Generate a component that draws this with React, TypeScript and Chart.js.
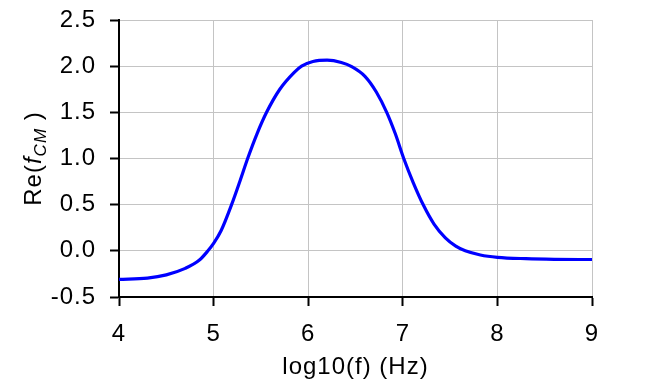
import React, { useEffect, useRef } from "react";
import { Chart, registerables } from "chart.js";
Chart.register(...registerables);

// log10(f) values and Re(f_CM)
const logF = [4.0, 4.3, 4.5, 4.7, 4.85, 4.94, 5.0, 5.08, 5.19, 5.28, 5.36, 5.46, 5.56, 5.7, 5.85, 5.93, 6.05, 6.2, 6.35, 6.46, 6.6, 6.72, 6.83, 6.92, 7.01, 7.11, 7.22, 7.33, 7.45, 7.56, 7.66, 7.82, 8.0, 8.3, 8.6, 9.0];
const reCM = [-0.31, -0.295, -0.26, -0.19, -0.1, 0.0, 0.08, 0.22, 0.5, 0.76, 1.0, 1.27, 1.5, 1.75, 1.93, 2.0, 2.05, 2.065, 2.04, 1.995, 1.89, 1.72, 1.5, 1.27, 1.0, 0.74, 0.49, 0.29, 0.14, 0.05, 0.0, -0.045, -0.07, -0.085, -0.092, -0.094];
const xTicks = [4, 5, 6, 7, 8, 9];
const yTicks = [-0.5, 0, 0.5, 1.0, 1.5, 2.0, 2.5];
const xTitle = "log10(f) (Hz)";
const yTitleParts = ["Re(", "f", "CM", " )"];

const FONT = '"Liberation Sans", Arial, sans-serif';
const FS = 24;

const yTitlePlugin = {
  id: "yTitleRich",
  afterDraw(chart: any) {
    const ctx = chart.ctx;
    const area = chart.chartArea;
    const cx = 33;
    const cy = (area.top + area.bottom) / 2;
    const parts = [
      { t: yTitleParts[0], font: `${FS}px ${FONT}`, dy: 8 },
      { t: yTitleParts[1], font: `italic ${FS}px ${FONT}`, dy: 8 },
      { t: yTitleParts[2], font: `italic 17px ${FONT}`, dy: 13 },
      { t: yTitleParts[3], font: `${FS}px ${FONT}`, dy: 8 },
    ];
    ctx.save();
    ctx.fillStyle = "#000";
    ctx.textBaseline = "alphabetic";
    ctx.textAlign = "left";
    let total = 0;
    const widths = parts.map((p) => {
      ctx.font = p.font;
      const w = ctx.measureText(p.t).width;
      total += w;
      return w;
    });
    ctx.translate(cx, cy);
    ctx.rotate(-Math.PI / 2);
    let u = -total / 2;
    parts.forEach((p, i) => {
      ctx.font = p.font;
      ctx.fillText(p.t, u, p.dy);
      u += widths[i];
    });
    ctx.restore();
  },
};

const bgPlugin = {
  id: "bg",
  beforeDraw(chart: any) {
    const ctx = chart.ctx;
    ctx.fillStyle = "#ffffff";
    ctx.fillRect(0, 0, chart.width, chart.height);
    try {
      (ctx as any).letterSpacing = "1px";
    } catch (e) {}
  },
};

export default function App() {
  const ref = useRef<HTMLCanvasElement | null>(null);
  useEffect(() => {
    if (!ref.current) return;
    const chart = new Chart(ref.current, {
      type: "line",
      data: {
        datasets: [
          {
            data: logF.map((x, i) => ({ x, y: reCM[i] })),
            borderColor: "rgb(0,0,255)",
            borderWidth: 3.2,
            pointRadius: 0,
            fill: false,
            cubicInterpolationMode: "monotone",
          },
        ],
      },
      options: {
        animation: false,
        responsive: false,
        devicePixelRatio: 1,
        layout: { padding: { top: 20, right: 56, bottom: 0, left: 0 } },
        plugins: { legend: { display: false }, tooltip: { enabled: false } },
        scales: {
          x: {
            type: "linear",
            min: 4,
            max: 9,
            afterFit: (s: any) => {
              s.height = 93;
              s.paddingLeft = 0;
              s.paddingRight = 0;
            },
            afterBuildTicks: (s: any) => {
              s.ticks = xTicks.map((v) => ({ value: v }));
            },
            grid: { color: "#c4c4c4", lineWidth: 1, tickLength: 9, tickColor: "#000", tickWidth: 2 },
            border: { color: "#000", width: 2 },
            ticks: {
              color: "#000",
              padding: 14,
              maxRotation: 0,
              autoSkip: false,
              font: { family: FONT, size: FS },
              callback: (v: any) => String(v),
            },
            title: {
              display: true,
              text: xTitle,
              color: "#000",
              font: { family: FONT, size: FS },
              padding: { top: 0, bottom: 8 },
            },
          },
          y: {
            type: "linear",
            min: -0.5,
            max: 2.5,
            afterFit: (s: any) => {
              s.width = 119;
              s.paddingTop = 0;
              s.paddingBottom = 0;
            },
            afterBuildTicks: (s: any) => {
              s.ticks = yTicks.map((v) => ({ value: v }));
            },
            grid: { color: "#c4c4c4", lineWidth: 1, tickLength: 9, tickColor: "#000", tickWidth: 2 },
            border: { color: "#000", width: 2 },
            ticks: {
              color: "#000",
              padding: 14,
              autoSkip: false,
              font: { family: FONT, size: FS },
              callback: (v: any) => Number(v).toFixed(1),
            },
          },
        },
      },
      plugins: [bgPlugin, yTitlePlugin],
    } as any);
    return () => chart.destroy();
  }, []);
  return (
    <div style={{ position: "absolute", left: 0, top: 0, width: 648, height: 390 }}>
      <canvas ref={ref} width={648} height={390} />
    </div>
  );
}
